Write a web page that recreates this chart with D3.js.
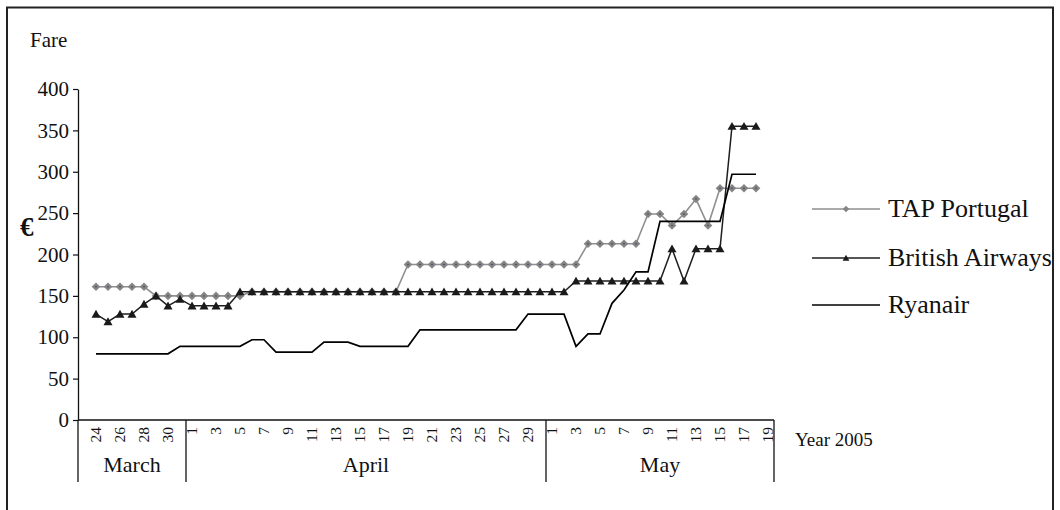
<!DOCTYPE html>
<html>
<head>
<meta charset="utf-8">
<script src="https://cdn.jsdelivr.net/npm/d3@7"></script>
<style>
  body { margin: 0; background: #fff; }
  svg { display: block; }
  text { font-family: "Liberation Serif", "Times New Roman", serif; fill: #111; }
</style>
</head>
<body>
<svg id="chart" width="1060" height="510"></svg>
<script>
// Calendar categories (Year 2005)
const months = ["March", "April", "May"];
const marchDays = [24, 25, 26, 27, 28, 29, 30, 31];
const aprilDays = [1, 2, 3, 4, 5, 6, 7, 8, 9, 10, 11, 12, 13, 14, 15, 16, 17, 18, 19, 20, 21, 22, 23, 24, 25, 26, 27, 28, 29, 30];
const mayDays = [1, 2, 3, 4, 5, 6, 7, 8, 9, 10, 11, 12, 13, 14, 15, 16, 17, 18, 19];

// Fares in euro, one value per day starting 24 March
const tapPortugal = [161, 161, 161, 161, 161,
  150, 150, 150, 150, 150, 150, 150, 150,
  155, 155, 155, 155, 155, 155, 155, 155, 155, 155, 155, 155, 155,
  188, 188, 188, 188, 188, 188, 188, 188, 188, 188, 188, 188, 188, 188, 188,
  213, 213, 213, 213, 213,
  249, 249, 235, 249, 267, 235, 280, 280, 280, 280];
const britishAirways = [128, 119, 128, 128, 140, 150, 138, 146, 138, 138, 138, 138,
  155, 155, 155, 155, 155, 155, 155, 155, 155, 155, 155, 155, 155, 155,
  155, 155, 155, 155, 155, 155, 155, 155, 155, 155, 155, 155, 155, 155,
  168, 168, 168, 168, 168, 168, 168, 168,
  207, 168, 207, 207, 207, 355, 355, 355];
const ryanair = [80, 80, 80, 80, 80, 80, 80,
  89, 89, 89, 89, 89, 89,
  97, 97,
  82, 82, 82, 82,
  94, 94, 94,
  89, 89, 89, 89, 89,
  109, 109, 109, 109, 109, 109, 109, 109, 109,
  128, 128, 128, 128,
  89, 104, 104, 141, 157, 179, 179,
  240, 240, 240, 240, 240, 240,
  297, 297, 297];

const yTicks = [0, 50, 100, 150, 200, 250, 300, 350, 400];
const seriesNames = ["TAP Portugal", "British Airways", "Ryanair"];

// ---- categories ----
const monthDays = [marchDays, aprilDays, mayDays];
const cats = [];
monthDays.forEach((days, m) => days.forEach(d => cats.push({ month: months[m], day: d, key: months[m] + "-" + d })));

const svg = d3.select("#chart");

// outer frame
svg.append("rect")
  .attr("x", 7).attr("y", 7.5).attr("width", 1046).attr("height", 520)
  .attr("fill", "none").attr("stroke", "#222").attr("stroke-width", 2);

const axisLeftX = 78, axisRightX = 774, baseY = 420, tableBottom = 482;

const x = d3.scaleBand().domain(cats.map(c => c.key)).range([90, axisRightX]);
const bw = x.bandwidth();
const cx = key => x(key) + bw / 2;
const y = d3.scaleLinear().domain([0, 400]).range([baseY, 89]);

// ---- y axis ----
const yAxis = svg.append("g")
  .attr("transform", `translate(${axisLeftX},0)`)
  .call(d3.axisLeft(y).tickValues(yTicks).tickSize(5).tickPadding(4).tickSizeOuter(0));
yAxis.select(".domain").attr("stroke", "#111").attr("stroke-width", 1.3);
yAxis.selectAll(".tick line").attr("stroke", "#111").attr("stroke-width", 1.2);
yAxis.selectAll(".tick text")
  .attr("font-family", "Liberation Serif, Times New Roman, serif")
  .attr("font-size", 21).attr("fill", "#111");

svg.append("text").attr("x", 30).attr("y", 47).attr("font-size", 21).text("Fare");
svg.append("text").attr("x", 20).attr("y", 236).attr("font-size", 27).attr("font-weight", "bold").text("€");

// ---- x axis with two-level category table ----
svg.append("line").attr("x1", axisLeftX).attr("x2", axisRightX).attr("y1", baseY).attr("y2", baseY)
  .attr("stroke", "#111").attr("stroke-width", 1.3);

const monthStarts = months.map(m => cats.find(c => c.month === m).key);
const dividers = [axisLeftX].concat(monthStarts.slice(1).map(k => x(k)), [axisRightX]);
svg.append("g").selectAll("line").data(dividers).join("line")
  .attr("x1", d => d).attr("x2", d => d).attr("y1", baseY).attr("y2", tableBottom)
  .attr("stroke", "#111").attr("stroke-width", 1.3);

svg.append("g").selectAll("text").data(months).join("text")
  .attr("x", (m, i) => (dividers[i] + dividers[i + 1]) / 2)
  .attr("y", 472).attr("text-anchor", "middle").attr("font-size", 22).text(d => d);

svg.append("g").selectAll("text").data(cats.filter((c, i) => i % 2 === 0)).join("text")
  .attr("transform", c => `translate(${cx(c.key)},427) rotate(-90)`)
  .attr("text-anchor", "end").attr("dy", "0.35em").attr("font-size", 15.5)
  .text(c => c.day);

svg.append("text").attr("x", 795).attr("y", 446).attr("font-size", 19).text("Year 2005");

// ---- series ----
const pts = vals => vals.map((v, i) => ({ key: cats[i].key, v }));
const line = d3.line().x(d => cx(d.key)).y(d => y(d.v));
const diamond = "M0,-4.3L4.3,0L0,4.3L-4.3,0Z";
const triangle = "M0,-4.3L4.5,3.6L-4.5,3.6Z";

const styles = [
  { data: pts(tapPortugal), stroke: "#8f8f8f", width: 1.6, marker: diamond, fill: "#858585" },
  { data: pts(britishAirways), stroke: "#1e1e1e", width: 1.5, marker: triangle, fill: "#1a1a1a" },
  { data: pts(ryanair), stroke: "#000", width: 1.7, marker: null }
];

styles.forEach(s => {
  svg.append("path").datum(s.data).attr("d", line)
    .attr("fill", "none").attr("stroke", s.stroke).attr("stroke-width", s.width).attr("stroke-linejoin", "miter");
  if (s.marker) {
    const g = svg.append("g");
    g.selectAll("path").data(s.data).join("path")
      .attr("d", s.marker).attr("fill", s.fill)
      .attr("transform", d => `translate(${cx(d.key)},${y(d.v)})`);
    if (s.marker === diamond) {
      g.selectAll("circle").data(s.data).join("circle")
        .attr("cx", d => cx(d.key)).attr("cy", d => y(d.v)).attr("r", 0.7).attr("fill", "#2a3560");
    }
  }
});

// ---- legend ----
const legendY = [209, 258, 305];
const legend = svg.append("g");
styles.forEach((s, i) => {
  legend.append("line").attr("x1", 812).attr("x2", 880).attr("y1", legendY[i]).attr("y2", legendY[i])
    .attr("stroke", s.stroke).attr("stroke-width", s.width);
  if (s.marker) {
    legend.append("path").attr("d", s.marker).attr("fill", s.fill)
      .attr("transform", `translate(846,${legendY[i]}) scale(0.75)`);
  }
  legend.append("text").attr("x", 888).attr("y", legendY[i] + 8).attr("font-size", 26).text(seriesNames[i]);
});
</script>
</body>
</html>
